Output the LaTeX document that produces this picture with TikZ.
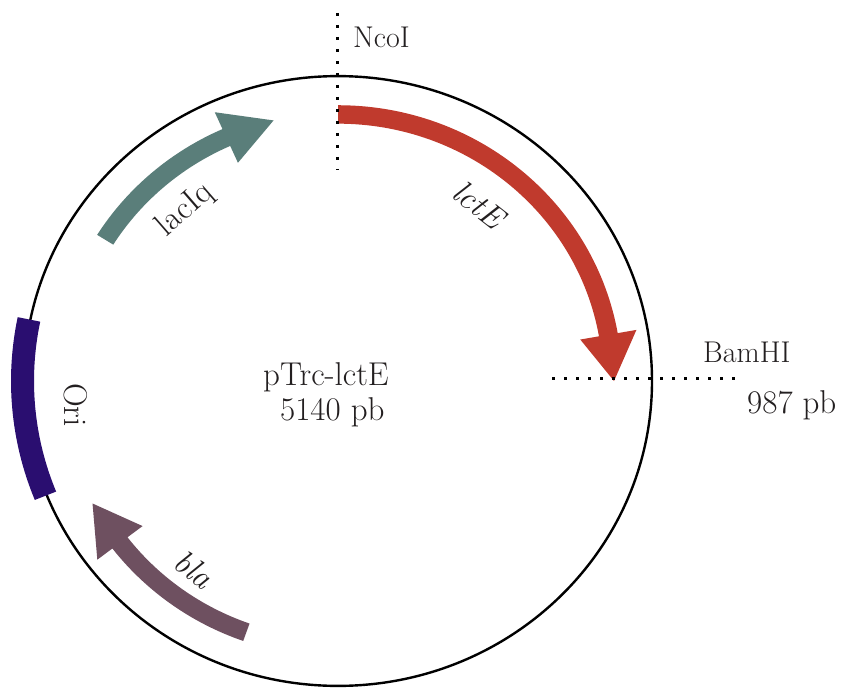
\documentclass[tikz,border=0pt]{standalone}
\usepackage{fontspec}
\usepackage{tikz}

\definecolor{lctred}{RGB}{192,58,45}
\definecolor{lacteal}{RGB}{90,126,122}
\definecolor{blamauve}{RGB}{110,80,96}
\definecolor{oriblue}{RGB}{42,14,112}
\definecolor{inkgray}{RGB}{35,31,32}

% gene arrow on the ring: tail angle, head base angle, tip angle, colour
\newcommand{\genearrow}[4]{%
  \fill[#4] (#1:284) arc[start angle=#1, end angle=#2, radius=284]
    -- (#2:303) -- (#3:276) -- (#2:246) -- (#2:265)
    arc[start angle=#2, end angle=#1, radius=265] -- cycle;}

\begin{document}
\begin{tikzpicture}[x=1pt,y=1pt,
    lbl/.style={inner sep=0pt, text=inkgray, font=\fontsize{33}{38}\selectfont},
    site/.style={inner sep=0pt, text=inkgray, font=\fontsize{30}{34}\selectfont},
    cut/.style={line width=3pt, dash pattern=on 3pt off 9pt}]
  \useasboundingbox (0,0) rectangle (853,689);

  % Backbone and features
  \begin{scope}[shift={(338,308)}, yscale=0.971]
    \draw[line width=2.4pt] (0,0) circle[radius=314];
    \fill[oriblue] (168.4:304) arc[start angle=168.4, end angle=202, radius=304]
      -- (202:327) arc[start angle=202, end angle=168.4, radius=327] -- cycle;
    \genearrow{90}{10}{0}{lctred}
    \genearrow{148}{114}{103.5}{lacteal}
    \genearrow{250.5}{217.4}{207.2}{blamauve}
  \end{scope}

  % Restriction sites
  \coordinate (ncotop) at (337,676);
  \coordinate (ncobot) at (337,519);
  \coordinate (bamleft) at (552,311);
  \coordinate (bamright) at (736,311);
  \draw[cut] (ncotop) -- (ncobot);
  \draw[cut] (bamleft) -- (bamright);
  \node[site, anchor=base west] (nco) at (353,641) {NcoI};
  \node[site, anchor=base west] (bam) at (703,327) {BamHI};
  \node[lbl, anchor=base west] (bampos) at (747,276) {987 pb};

  % Names
  \node[lbl, anchor=base west] (name) at (263,304) {pTrc-lctE};
  \node[lbl, anchor=base west] (size) at (280,269) {5140 pb};
  \node[lbl, rotate=41] (laci) at (185,479) {lacIq};
  \node[lbl, rotate=-38] (lcte) at (479,484) {\itshape lctE};
  \node[lbl, rotate=-37] (bla) at (194,120) {\itshape bla};
  \node[lbl, rotate=-90] (ori) at (76,284) {Ori};
\end{tikzpicture}
\end{document}
